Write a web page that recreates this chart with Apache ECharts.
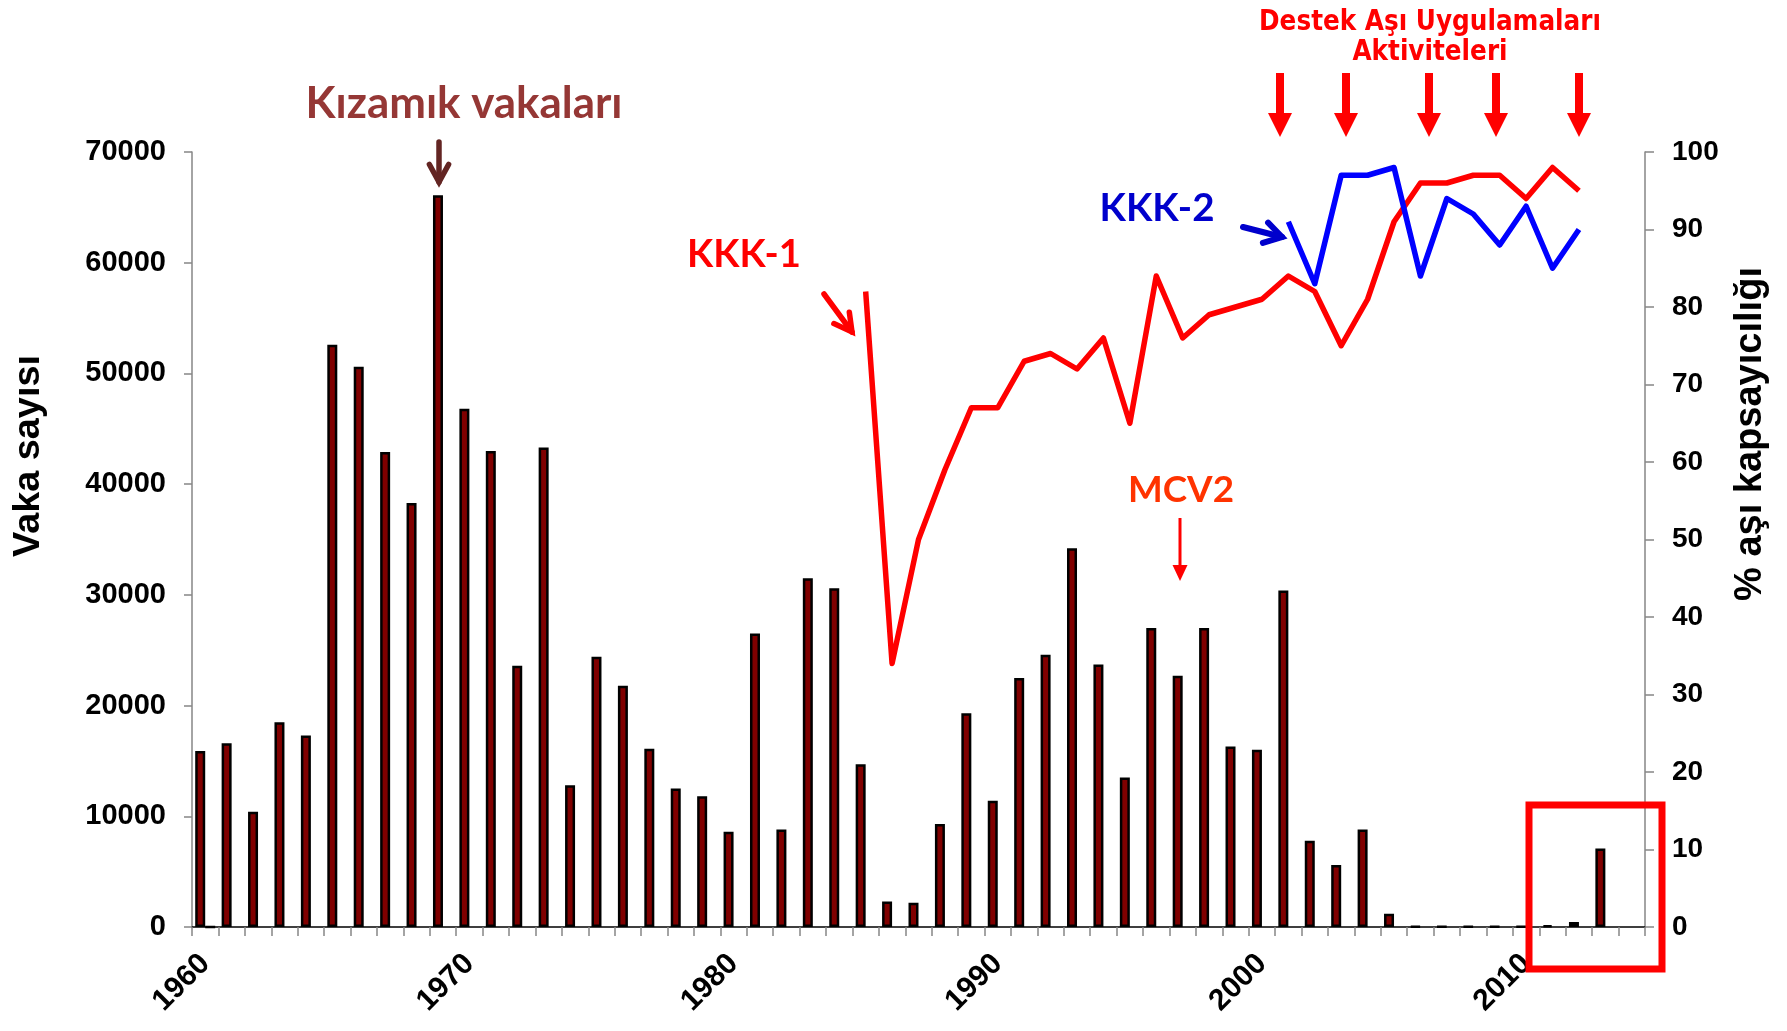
<!DOCTYPE html>
<html><head><meta charset="utf-8">
<script src="https://cdn.jsdelivr.net/npm/echarts@6/dist/echarts.min.js"></script>
<style>html,body{margin:0;padding:0;background:#fff}#c{width:1787px;height:1031px}</style>
</head><body><div id="c"></div>
<script>
// ---------- DATA ----------
const years = ['1960','1961','1962','1963','1964','1965','1966','1967','1968','1969',
  '1970','1971','1972','1973','1974','1975','1976','1977','1978','1979',
  '1980','1981','1982','1983','1984','1985','1986','1987','1988','1989',
  '1990','1991','1992','1993','1994','1995','1996','1997','1998','1999',
  '2000','2001','2002','2003','2004','2005','2006','2007','2008','2009',
  '2010','2011','2012','2013','2014'];
// Kızamık vaka sayısı (left axis)
const cases = [15900,16600,10400,18500,17300,52600,50600,42900,38300,66100,
  46800,43000,23600,43300,12800,24400,21800,16100,12500,11800,
  8600,26500,8800,31500,30600,14700,2300,2200,9300,19300,
  11400,22500,24600,34200,23700,13500,27000,22700,27000,16300,
  16000,30400,7800,5600,8800,1200,60,30,30,30,
  30,150,450,7100,null];
// second (empty) bar series of the original chart
const series2 = [0,null,null,null,null,null,null,null,null,null,
  null,null,null,null,null,null,null,null,null,null,
  null,null,null,null,null,null,null,null,null,null,
  null,null,null,null,null,null,null,null,null,null,
  null,null,null,null,null,null,null,null,null,null,
  null,null,null,null,null];
// KKK-1 coverage % (right axis)
const kkk1 = [null,null,null,null,null,null,null,null,null,null,
  null,null,null,null,null,null,null,null,null,null,
  null,null,null,null,null,82,34,50,59,67,
  67,73,74,72,76,65,84,76,79,80,
  81,84,82,75,81,91,96,96,97,97,
  94,98,95,null,null];
// KKK-2 coverage % (right axis)
const kkk2 = [null,null,null,null,null,null,null,null,null,null,
  null,null,null,null,null,null,null,null,null,null,
  null,null,null,null,null,null,null,null,null,null,
  null,null,null,null,null,null,null,null,null,null,
  null,91,83,97,97,98,84,94,92,88,
  93,85,90,null,null];
const leftTicks = {min:0, max:70000, interval:10000};
const rightTicks = {min:0, max:100, interval:10};

// ---------- helpers ----------
const mctx = document.createElement('canvas').getContext('2d');
function fit(text, weight, family, target){
  mctx.font = weight + ' 100px ' + family;
  return 100 * target / mctx.measureText(text).width;
}
const ARIAL = '"Liberation Sans", Arial, sans-serif';
const CALIBRI = 'Lato, "Open Sans", sans-serif';
const NARROW = '"Liberation Sans Narrow", "DejaVu Sans Condensed", sans-serif';

function txt(text, x, y, color, family, target, weight, rot){
  const fs = fit(text, weight||'bold', family, target);
  return {type:'text', x:x, y:y, z:100, rotation:rot||0, style:{text:text, fill:color, fontSize:fs, fontWeight:weight||'bold',
    fontFamily:family, align:'center', verticalAlign:'middle', textAlign:'center', textVerticalAlign:'middle'}};
}
function chevron(x1,y1,x2,y2,color,lw,len,ang){
  const a = Math.atan2(y2-y1, x2-x1);
  const p1 = [x2 - len*Math.cos(a-ang), y2 - len*Math.sin(a-ang)];
  const p2 = [x2 - len*Math.cos(a+ang), y2 - len*Math.sin(a+ang)];
  return [
    {type:'line', z:100, shape:{x1:x1,y1:y1,x2:x2,y2:y2}, style:{stroke:color, lineWidth:lw, lineCap:'round'}},
    {type:'polyline', z:100, shape:{points:[p1,[x2,y2],p2]}, style:{stroke:color, lineWidth:lw, fill:null, lineCap:'round', lineJoin:'miter'}}
  ];
}
function blockArrow(x, yTop, yHeadStart, yTip, shaftW, headW, color){
  return [
    {type:'rect', z:100, shape:{x:x-shaftW/2, y:yTop, width:shaftW, height:yHeadStart-yTop+1}, style:{fill:color}},
    {type:'polygon', z:100, shape:{points:[[x-headW/2,yHeadStart],[x+headW/2,yHeadStart],[x,yTip]]}, style:{fill:color}}
  ];
}

const destekFs = fit('Destek Aşı Uygulamaları', 'bold', NARROW, 342);
const graphics = [
  txt('Vaka sayısı', 29, 456, '#000', ARIAL, 202, 'bold', Math.PI/2),
  txt('% aşı kapsayıcılığı', 1751, 434, '#000', ARIAL, 334, 'bold', Math.PI/2),
  txt('Kızamık vakaları', 464, 104, '#953735', CALIBRI, 317),
  ...chevron(439, 142, 439, 182, '#632523', 5.5, 20, 0.5),
  txt('KKK-1', 744, 255, '#FF0000', CALIBRI, 114),
  ...chevron(824, 294, 852, 332, '#FF0000', 5.5, 20, 0.5),
  txt('KKK-2', 1157, 209, '#0000CC', CALIBRI, 115),
  ...chevron(1243, 227, 1282, 237, '#0000CC', 6, 20, 0.55),
  txt('MCV2', 1181, 490, '#FF3300', CALIBRI, 106),
  ...blockArrow(1180, 518, 565, 581, 3, 15, '#FF0000'),
  {type:'text', x:1430, y:23, z:100, style:{text:'Destek Aşı Uygulamaları', fill:'#FF0000', fontSize:destekFs, fontWeight:'bold', fontFamily:NARROW, align:'center', verticalAlign:'middle', textAlign:'center', textVerticalAlign:'middle'}},
  {type:'text', x:1430, y:53, z:100, style:{text:'Aktiviteleri', fill:'#FF0000', fontSize:destekFs, fontWeight:'bold', fontFamily:NARROW, align:'center', verticalAlign:'middle', textAlign:'center', textVerticalAlign:'middle'}},
  ...blockArrow(1280, 73, 113, 137, 8, 24, '#FF0000'),
  ...blockArrow(1346, 73, 113, 137, 8, 24, '#FF0000'),
  ...blockArrow(1429, 73, 113, 137, 8, 24, '#FF0000'),
  ...blockArrow(1496, 73, 113, 137, 8, 24, '#FF0000'),
  ...blockArrow(1579, 73, 113, 137, 8, 24, '#FF0000'),
  {type:'rect', z:200, shape:{x:1529, y:805, width:133, height:164}, style:{stroke:'#FF0000', fill:null, lineWidth:7}}
];

const chart = echarts.init(document.getElementById('c'), null, {renderer:'canvas'});
chart.setOption({
  animation:false,
  backgroundColor:'#ffffff',
  grid:{left:192, right:142, top:152, bottom:104, containLabel:false},
  xAxis:{type:'category', data:years, boundaryGap:true,
    axisLine:{show:true, lineStyle:{color:'#000', width:1.5}},
    axisTick:{show:true, interval:0, length:9, lineStyle:{color:'#868686', width:1.5}},
    axisLabel:{interval:9, rotate:45, margin:32, fontSize:30, fontWeight:'bold', fontFamily:ARIAL, color:'#000'},
    splitLine:{show:false}},
  yAxis:[
    {type:'value', min:leftTicks.min, max:leftTicks.max, interval:leftTicks.interval, position:'left',
     axisLine:{show:true, lineStyle:{color:'#868686', width:1.5}},
     axisTick:{show:true, length:8, lineStyle:{color:'#868686', width:1.5}},
     axisLabel:{margin:26, fontSize:29, fontWeight:'bold', fontFamily:ARIAL, color:'#000', formatter:function(v){return String(v);}},
     splitLine:{show:false}},
    {type:'value', min:rightTicks.min, max:rightTicks.max, interval:rightTicks.interval, position:'right',
     axisLine:{show:true, lineStyle:{color:'#868686', width:1.5}},
     axisTick:{show:true, length:9, lineStyle:{color:'#868686', width:1.5}},
     axisLabel:{margin:27, fontSize:28, fontWeight:'bold', fontFamily:ARIAL, color:'#000'},
     splitLine:{show:false}}
  ],
  series:[
    {name:'Kızamık vakaları', type:'bar', yAxisIndex:0, data:cases, barWidth:10, barGap:'0%',
     itemStyle:{color:'#800000', borderColor:'#000', borderWidth:2.5}},
    {name:'Seri 2', type:'bar', yAxisIndex:0, data:series2, barWidth:10, barGap:'0%',
     itemStyle:{color:'#800000', borderColor:'#000', borderWidth:2.5}},
    {name:'KKK-1', type:'line', yAxisIndex:1, data:kkk1, showSymbol:false, symbol:'none', connectNulls:false,
     lineStyle:{color:'#FF0000', width:5.5, join:'round'}, z:5},
    {name:'KKK-2', type:'line', yAxisIndex:1, data:kkk2, showSymbol:false, symbol:'none', connectNulls:false,
     lineStyle:{color:'#0000FF', width:5.5, join:'round'}, z:6}
  ],
  graphic:graphics
});
</script></body></html>
